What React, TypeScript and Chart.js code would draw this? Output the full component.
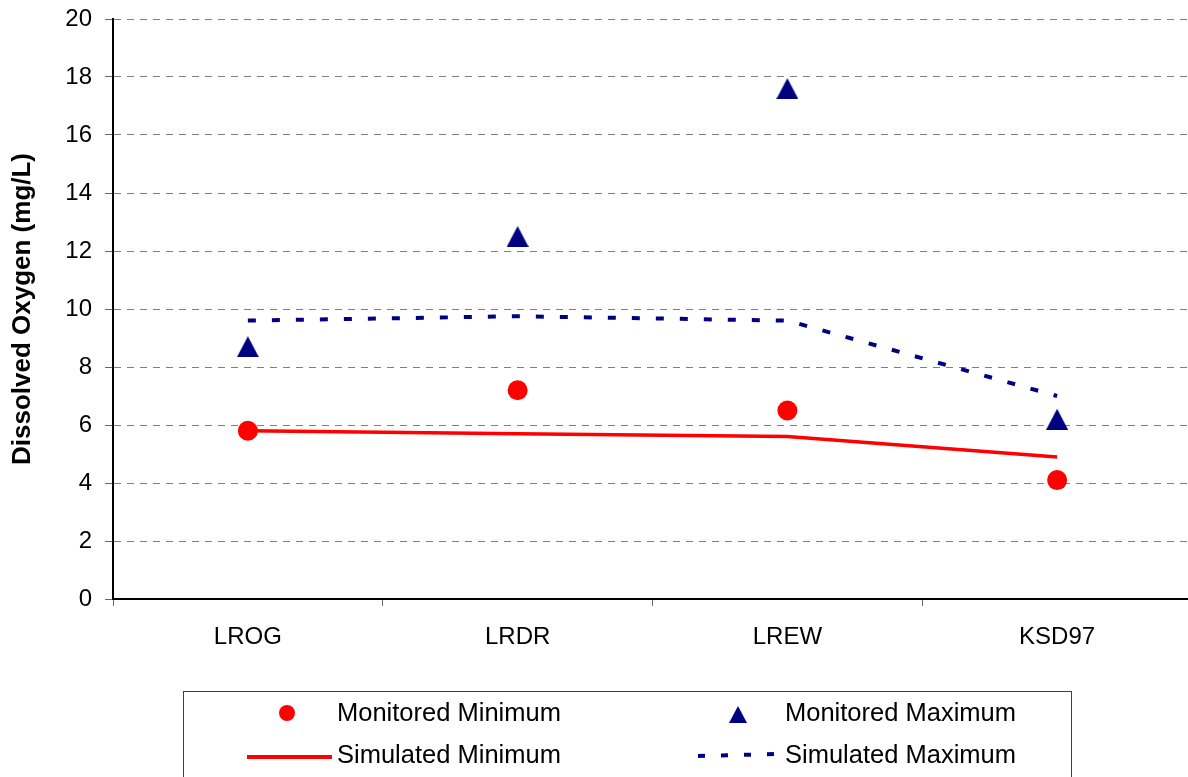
import React, { useEffect, useRef } from "react";
import { Chart, registerables } from "chart.js";

Chart.register(...registerables);

const categories = ["LROG", "LRDR", "LREW", "KSD97"];
const monitoredMin = [5.8, 7.2, 6.5, 4.1];
const monitoredMax = [8.7, 12.5, 17.6, 6.2];
const simulatedMin = [5.8, 5.7, 5.6, 4.9];
const simulatedMax = [9.6, 9.75, 9.6, 7.0];
const yMin = 0;
const yMax = 20;
const yStep = 2;
const yTitle = "Dissolved Oxygen (mg/L)";

const RED = "#FF0000";
const NAVY = "#000080";
const FONT = "Arial, 'Liberation Sans', sans-serif";

function makeTriangle(w: number, h: number, color: string): HTMLCanvasElement {
  const c = document.createElement("canvas");
  c.width = w;
  c.height = h;
  const ctx = c.getContext("2d")!;
  ctx.fillStyle = color;
  ctx.beginPath();
  ctx.moveTo(w / 2, 0);
  ctx.lineTo(w, h);
  ctx.lineTo(0, h);
  ctx.closePath();
  ctx.fill();
  return c;
}

// the plot area of the original runs slightly past the right edge of the picture
const extendPlugin = {
  id: "extendRight",
  afterLayout(chart: any) {
    const right = 1192;
    const x = chart.scales.x;
    chart.chartArea.right = right;
    chart.chartArea.width = right - chart.chartArea.left;
    x.right = right;
    x.width = right - x.left;
    x.configure();
  },
};

const legendPlugin = {
  id: "boxLegend",
  afterDraw(chart: any) {
    const ctx = chart.ctx as CanvasRenderingContext2D;
    const ds = chart.data.datasets;
    ctx.save();
    ctx.strokeStyle = "#404040";
    ctx.lineWidth = 1;
    ctx.strokeRect(183.5, 691.5, 888, 120);
    ctx.font = `25.5px ${FONT}`;
    ctx.fillStyle = "#000";
    ctx.textBaseline = "alphabetic";
    ctx.textAlign = "left";
    // Monitored Minimum
    ctx.fillStyle = RED;
    ctx.beginPath();
    ctx.arc(287, 713, 8, 0, Math.PI * 2);
    ctx.fill();
    ctx.fillStyle = "#000";
    ctx.fillText(ds[0].label, 337, 721);
    // Monitored Maximum
    ctx.fillStyle = NAVY;
    ctx.beginPath();
    ctx.moveTo(738, 706);
    ctx.lineTo(747, 723);
    ctx.lineTo(729, 723);
    ctx.closePath();
    ctx.fill();
    ctx.fillStyle = "#000";
    ctx.fillText(ds[1].label, 785, 721);
    // Simulated Minimum
    ctx.strokeStyle = RED;
    ctx.lineWidth = 4;
    ctx.beginPath();
    ctx.moveTo(247, 757);
    ctx.lineTo(332, 757);
    ctx.stroke();
    ctx.fillText(ds[2].label, 337, 763);
    // Simulated Maximum
    ctx.strokeStyle = NAVY;
    ctx.lineWidth = 4;
    ctx.setLineDash([7, 16]);
    ctx.beginPath();
    ctx.moveTo(698, 756);
    ctx.lineTo(776, 754);
    ctx.stroke();
    ctx.setLineDash([]);
    ctx.fillText(ds[3].label, 785, 763);
    ctx.restore();
  },
};

const bgPlugin = {
  id: "bg",
  beforeDraw(chart: any) {
    const ctx = chart.ctx;
    ctx.save();
    ctx.fillStyle = "#fff";
    ctx.fillRect(0, 0, chart.width, chart.height);
    ctx.restore();
  },
};

export default function App() {
  const ref = useRef<HTMLCanvasElement | null>(null);
  useEffect(() => {
    if (!ref.current) return;
    const tri = makeTriangle(22, 21, NAVY);
    const chart = new Chart(ref.current, {
      type: "line",
      data: {
        labels: categories,
        datasets: [
          {
            label: "Monitored Minimum",
            data: monitoredMin,
            showLine: false,
            pointStyle: "circle",
            pointRadius: 10,
            backgroundColor: RED,
            borderColor: RED,
            pointBorderWidth: 0,
            order: 0,
          },
          {
            label: "Monitored Maximum",
            data: monitoredMax,
            showLine: false,
            pointStyle: tri,
            pointRadius: 11,
            backgroundColor: NAVY,
            borderColor: NAVY,
            order: 0,
          },
          {
            label: "Simulated Minimum",
            data: simulatedMin,
            borderColor: RED,
            backgroundColor: RED,
            borderWidth: 3.5,
            pointRadius: 0,
            tension: 0,
            fill: false,
            order: 1,
          },
          {
            label: "Simulated Maximum",
            data: simulatedMax,
            borderColor: NAVY,
            backgroundColor: NAVY,
            borderWidth: 4,
            borderDash: [8, 16],
            pointRadius: 0,
            tension: 0,
            fill: false,
            order: 1,
          },
        ],
      },
      options: {
        responsive: false,
        animation: false,
        devicePixelRatio: 1,
        layout: { autoPadding: false, padding: { top: 19, left: 0, right: 0, bottom: 118 } },
        plugins: {
          legend: { display: false },
          tooltip: { enabled: false },
          title: { display: false },
        },
        scales: {
          x: {
            type: "category",
            offset: true,
            afterFit: (s: any) => {
              s.height = 60;
              s.paddingLeft = 0;
              s.paddingRight = 0;
            },
            grid: {
              offset: true,
              drawOnChartArea: false,
              drawTicks: true,
              tickLength: 7,
              color: "#666",
            },
            border: { display: true, color: "#000", width: 2 },
            ticks: {
              color: "#000",
              font: { family: FONT, size: 24 },
              padding: 17,
              maxRotation: 0,
            },
          },
          y: {
            min: yMin,
            max: yMax,
            afterFit: (s: any) => {
              s.width = 113;
              s.paddingTop = 0;
              s.paddingBottom = 0;
            },
            grid: {
              color: "#808080",
              lineWidth: 1,
              tickLength: 8,
              tickColor: "#666",
              drawTicks: true,
            },
            border: { display: true, color: "#000", width: 2, dash: [7, 6] },
            ticks: {
              stepSize: yStep,
              color: "#000",
              font: { family: FONT, size: 24 },
              padding: 13,
            },
            title: {
              display: true,
              text: yTitle,
              color: "#000",
              font: { family: FONT, size: 26, weight: "bold" },
              padding: { top: 7, bottom: 0 },
            },
          },
        },
      },
      plugins: [bgPlugin, extendPlugin, legendPlugin],
    });
    return () => chart.destroy();
  }, []);
  return (
    <div style={{ position: "fixed", left: 0, top: 0, width: 1188, height: 777, background: "#fff" }}>
      <canvas ref={ref} width={1188} height={777} style={{ display: "block" }} />
    </div>
  );
}
